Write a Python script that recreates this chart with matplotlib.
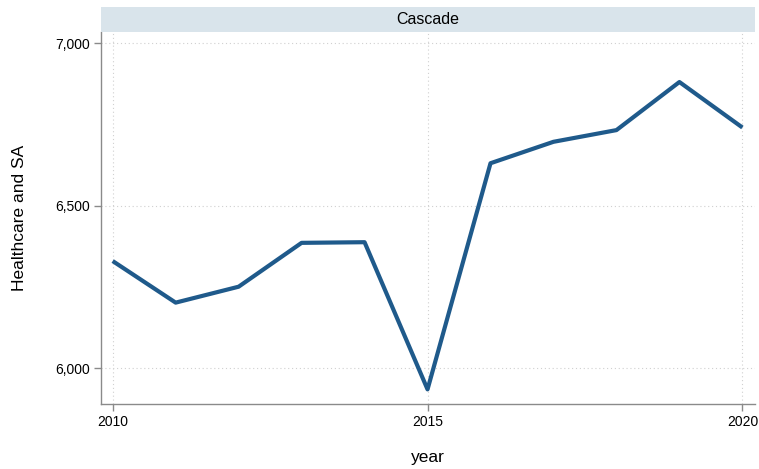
import matplotlib
matplotlib.use('Agg')
import matplotlib.pyplot as plt
from matplotlib.patches import Rectangle
from matplotlib.ticker import FuncFormatter

plt.rcParams['font.family'] = ['Liberation Sans', 'DejaVu Sans']

years = [2010, 2011, 2012, 2013, 2014, 2015, 2016, 2017, 2018, 2019, 2020]
values = [6330, 6202, 6251, 6386, 6388, 5935, 6631, 6697, 6733, 6881, 6741]
xticks = [2010, 2015, 2020]
yticks = [6000, 6500, 7000]
panel = "Cascade"

fig = plt.figure(figsize=(7.59, 4.69), dpi=100)
ax = fig.add_axes([0.1327, 0.1386, 0.862, 0.7932])

ax.plot(years, values, color='#1f5a8b', linewidth=3, solid_capstyle='butt', zorder=3)

ax.set_xlim(2009.81, 2020.2)
ax.set_ylim(5890, 7035)
ax.set_xticks(xticks)
ax.set_yticks(yticks)
ax.yaxis.set_major_formatter(FuncFormatter(lambda v, p: f"{int(v):,}"))
ax.grid(True, linestyle=(0, (1, 2.5)), color='#d0d0d0', linewidth=0.8)

for s in ['top', 'right']:
    ax.spines[s].set_visible(False)
for s in ['left', 'bottom']:
    ax.spines[s].set_color('#8a8a8a')
    ax.spines[s].set_linewidth(1.0)
ax.tick_params(length=5, width=1.0, color='#8a8a8a', labelsize=10, pad=3)

ax.set_xlabel("year", fontsize=12.5, labelpad=15)
ax.set_ylabel("Healthcare and SA", fontsize=12.5, labelpad=20)

# panel strip
strip = Rectangle((0.1327, 0.9318), 0.862, 0.053, transform=fig.transFigure,
                  facecolor='#d9e4eb', edgecolor='none')
fig.patches.append(strip)
fig.text(0.1327 + 0.862 / 2, 0.9318 + 0.0265, panel, ha='center', va='center', fontsize=11.5)

fig.savefig("out.png", dpi=100)
